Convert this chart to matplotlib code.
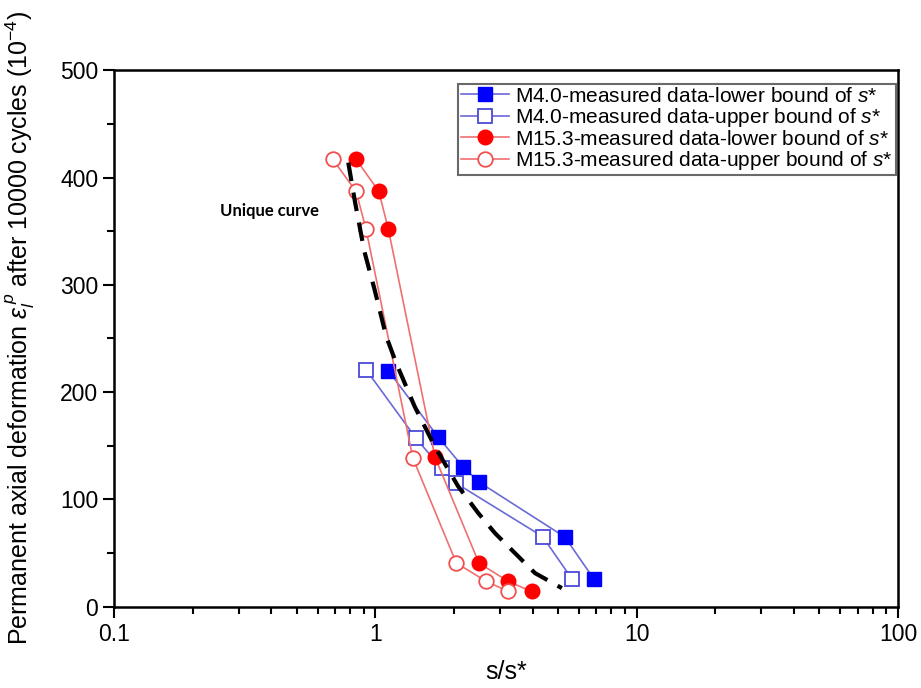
import matplotlib
matplotlib.use("Agg")
import matplotlib.pyplot as plt
from matplotlib.ticker import MultipleLocator, FixedLocator, NullFormatter, FixedFormatter

plt.rcParams['font.family'] = ['Liberation Sans', 'DejaVu Sans']
plt.rcParams['mathtext.fontset'] = 'custom'
plt.rcParams['mathtext.it'] = 'Liberation Sans:italic'
plt.rcParams['mathtext.rm'] = 'Liberation Sans'

# M4.0 lower bound of s*
m40_low_x = [1.12, 1.74, 2.17, 2.50, 5.31, 6.85]
m40_low_y = [220, 158, 130, 116, 65, 26]
# M4.0 upper bound of s*
m40_up_x = [0.92, 1.43, 1.79, 2.04, 4.36, 5.65]
m40_up_y = [221, 157, 129, 115, 65.5, 26]
# M15.3 lower bound
m153_low_x = [0.843, 1.03, 1.12, 1.69, 2.49, 3.23, 3.96]
m153_low_y = [417, 387, 352, 139.5, 40.7, 23.6, 14.3]
# M15.3 upper bound
m153_up_x = [0.686, 0.843, 0.92, 1.39, 2.04, 2.66, 3.23]
m153_up_y = [417, 387, 352, 138.7, 40.8, 23.6, 14.3]
# unique curve
uc_x = [0.787, 0.834, 0.906, 0.992, 1.099, 1.201, 1.412, 1.686, 2.073, 2.473, 2.866, 3.42, 4.08, 5.17]
uc_y = [413.9, 378, 331.5, 295.7, 252, 227, 186.8, 149.5, 112.2, 87.4, 68.7, 50, 31.4, 17.4]

labels = ["M4.0-measured data-lower bound of $s$*",
          "M4.0-measured data-upper bound of $s$*",
          "M15.3-measured data-lower bound of $s$*",
          "M15.3-measured data-upper bound of $s$*"]

fig = plt.figure(figsize=(9.21, 6.88), dpi=100)
ax = fig.add_axes([0.124, 0.118, 0.851, 0.780])

blue_line = '#6a6ad8'
red_line = '#f07070'
ax.plot(m40_low_x, m40_low_y, '-s', color=blue_line, lw=1.2, ms=9.5, mfc='#0000ff', mec='#0000ff', label=labels[0])
ax.plot(m40_up_x, m40_up_y, '-s', color=blue_line, lw=1.2, ms=9.5, mfc='white', mec='#4a4ad8', mew=1.3, label=labels[1])
ax.plot(m153_low_x, m153_low_y, '-o', color=red_line, lw=1.2, ms=10.5, mfc='#ff0000', mec='#ff0000', label=labels[2])
ax.plot(m153_up_x, m153_up_y, '-o', color=red_line, lw=1.2, ms=10.5, mfc='white', mec='#f05050', mew=1.3, label=labels[3])
ax.plot(uc_x, uc_y, '--', color='black', lw=3, dashes=(4.5, 2.8))

ax.text(0.255, 369, "Unique curve", fontsize=12, fontweight='bold', family=['Lato', 'DejaVu Sans'],
        ha='left', va='center')

ax.set_xscale('log')
ax.set_xlim(0.1, 100)
ax.set_ylim(0, 500)
ax.xaxis.set_major_locator(FixedLocator([0.1, 1, 10, 100]))
ax.xaxis.set_major_formatter(FixedFormatter(['0.1', '1', '10', '100']))
ax.xaxis.set_minor_locator(FixedLocator([m * 10.0**e for e in (-1, 0, 1) for m in range(2, 10)]))
ax.xaxis.set_minor_formatter(NullFormatter())
ax.yaxis.set_major_locator(MultipleLocator(100))
ax.yaxis.set_minor_locator(MultipleLocator(50))

ax.tick_params(which='both', direction='out', top=False, right=False, width=1.5, labelsize=16.5)
ax.tick_params(which='major', length=8)
ax.tick_params(which='minor', length=5)
for sp in ax.spines.values():
    sp.set_linewidth(1.8)

ax.set_xlabel("s/s*", fontsize=18, labelpad=10)
ax.set_ylabel(r"Permanent axial deformation $\varepsilon_l^{\,p}$ after 10000 cycles (10$^{-4}$)", fontsize=18)
ax.yaxis.set_label_coords(-0.098, 0.52)

leg = ax.legend(loc='upper right', fontsize=15, frameon=True, fancybox=False, edgecolor='#444444',
                borderpad=0.15, labelspacing=0.02, handlelength=2.3, handletextpad=0.3,
                bbox_to_anchor=(0.997, 0.975), borderaxespad=0)
leg.get_frame().set_linewidth(1.5)

fig.savefig("out.png", dpi=100)
